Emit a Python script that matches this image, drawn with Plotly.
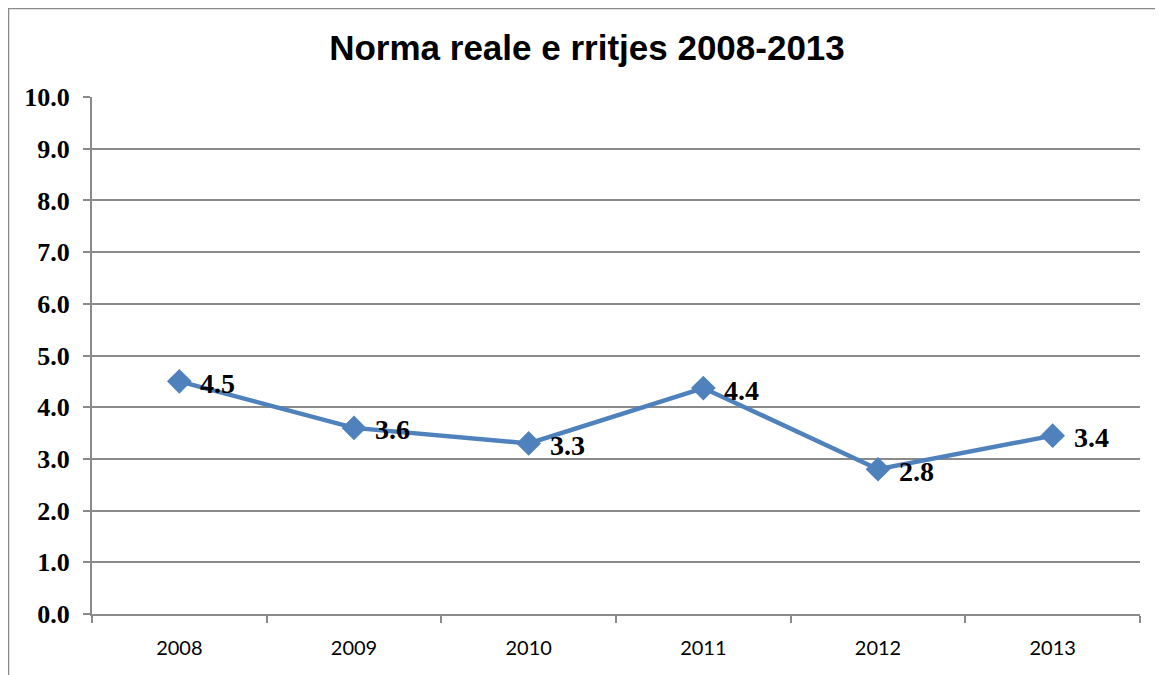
import plotly.graph_objects as go

years = ["2008", "2009", "2010", "2011", "2012", "2013"]
growth = [4.5, 3.6, 3.3, 4.37, 2.8, 3.45]
labels = ["4.5", "3.6", "3.3", "4.4", "2.8", "3.4"]
y_ticks = [0, 1, 2, 3, 4, 5, 6, 7, 8, 9, 10]
y_ticktext = [f"{v:.1f}" for v in y_ticks]

W, H = 1163, 675
OFF = 8  # browser body margin
L, R, T, B = 92 - OFF, 1163 + OFF - 1140, 97 - OFF, 675 + OFF - 614
pw = W - L - R
ph = H - T - B

fig = go.Figure()
fig.add_trace(go.Scatter(
    x=years, y=growth, mode="lines+markers",
    line=dict(color="#4F81BD", width=4.5),
    marker=dict(symbol="diamond", size=19, color="#4F81BD"),
    cliponaxis=False, showlegend=False,
))

for i, (yv, lab) in enumerate(zip(growth, labels)):
    fig.add_annotation(x=i, y=yv, xref="x", yref="y", text=f"<b>{lab}</b>", showarrow=False,
                       xanchor="left", yanchor="middle", xshift=19, yshift=-2,
                       font=dict(family="Liberation Serif", size=28, color="black"))

fig.update_layout(
    width=W, height=H,
    margin=dict(l=L, r=R, t=T, b=B),
    paper_bgcolor="white", plot_bgcolor="white",
    title=dict(text="<b>Norma reale e rritjes 2008-2013</b>",
               font=dict(family="Liberation Sans", size=35, color="black"),
               x=(587 - OFF) / W, xanchor="center", y=1 - (48 - OFF) / H, yanchor="middle"),
    xaxis=dict(type="category", range=[-0.5, 5.5], showgrid=False,
               showline=True, linecolor="#8a8a8a", linewidth=2,
               ticks="outside", tickson="boundaries", ticklen=7,
               tickcolor="#8a8a8a", tickwidth=1.5,
               tickfont=dict(family="Lato", size=20, color="black"),
               ticklabelstandoff=15, automargin=False),
    yaxis=dict(range=[0, 10], tickvals=y_ticks, ticktext=y_ticktext,
               showgrid=True, gridcolor="#8a8a8a", gridwidth=2,
               showline=True, linecolor="#8a8a8a", linewidth=2,
               ticks="outside", ticklen=7, tickcolor="#8a8a8a", tickwidth=1.5,
               tickfont=dict(family="Liberation Serif", size=26, color="black", weight="bold"),
               ticklabelstandoff=8, zeroline=False, automargin=False),
    shapes=[dict(type="rect", xref="paper", yref="paper",
                 x0=(0.5 - L) / pw, x1=(W + 10 - L) / pw,
                 y0=-(B + 10) / ph, y1=(H - B - 0.5) / ph,
                 line=dict(color="#8a8a8a", width=1.5), layer="below")],
)

fig.write_html("out.html")
